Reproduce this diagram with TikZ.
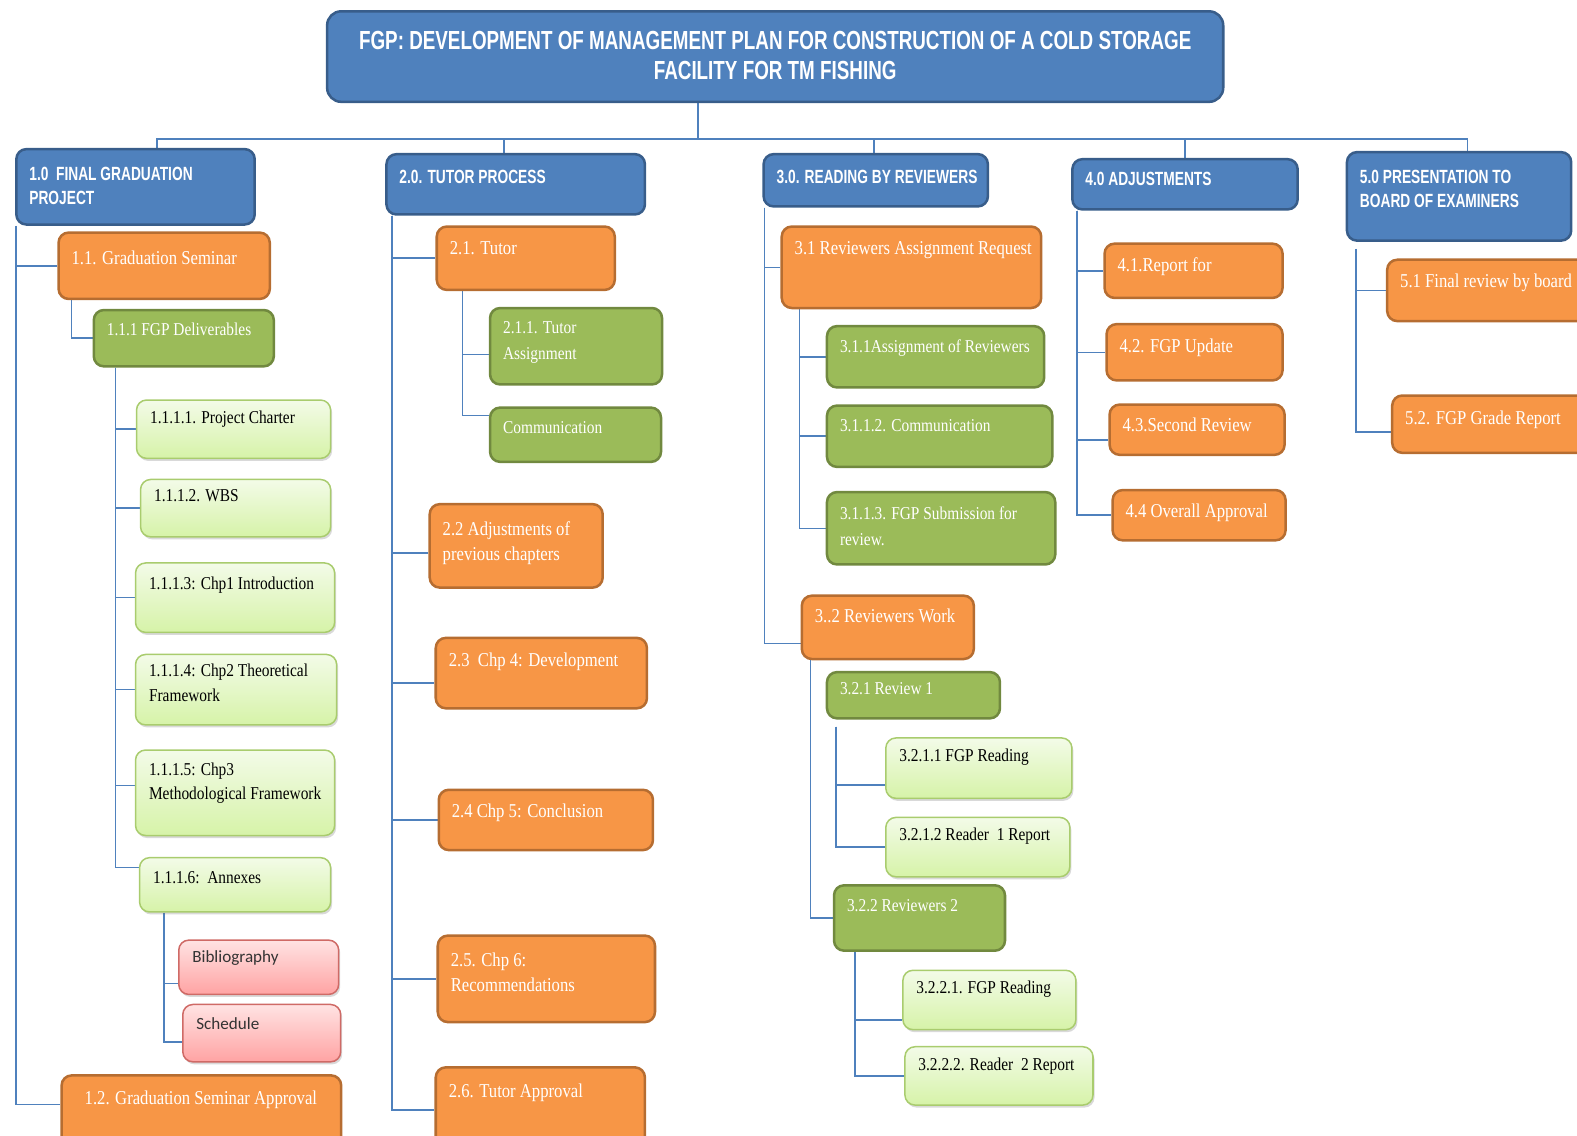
\documentclass[tikz,border=0pt]{standalone}
\usepackage{fontspec}
\setmainfont{Liberation Serif}
\newfontfamily\hdrfont[FakeStretch=0.72]{Liberation Sans}
\newfontfamily\bodyfont[FakeStretch=0.85]{Liberation Serif}
\newfontfamily\calfont{Carlito}
\usetikzlibrary{calc,shadows,backgrounds}

\definecolor{bluefill}{HTML}{4F81BD}
\definecolor{blueline}{HTML}{385D8A}
\definecolor{orfill}{HTML}{F79646}
\definecolor{orline}{HTML}{B66D31}
\definecolor{grfill}{HTML}{9BBB59}
\definecolor{grline}{HTML}{71893F}
\definecolor{ltop}{HTML}{F3FBE8}
\definecolor{lbot}{HTML}{D6F3A8}
\definecolor{lline}{HTML}{A9CC6E}
\definecolor{ptop}{HTML}{FFE3E3}
\definecolor{pbot}{HTML}{FFA3A3}
\definecolor{pline}{HTML}{CF6A66}
\definecolor{linkc}{HTML}{4F81BD}

% multi-line label, aligned on its first baseline
\newcommand\ml[1]{\begin{tabular}[t]{@{}l@{}}#1\end{tabular}}

% box + its label: style, name, x1, y1, x2, y2, baseline offset, text
\newcommand\bx[8]{%
  \node[#1, minimum width={#5-#3}, minimum height={#6-#4}] (#2) at (#3,#4) {};
  \node[txt#1] (#2t) at ($(#2.north west)+(14,#7)$) {#8};}

\begin{document}
\begin{tikzpicture}[x=1pt,y=-1pt,
  box/.style={rounded corners=10pt, inner sep=0pt, anchor=north west, line width=2.5pt},
  blue/.style={box, fill=bluefill, draw=blueline},
  orange/.style={box, fill=orfill, draw=orline},
  green/.style={box, fill=grfill, draw=grline},
  light/.style={box, line width=1.5pt, draw=lline, top color=ltop, bottom color=lbot,
    drop shadow={shadow xshift=1.5pt, shadow yshift=-2.5pt, opacity=0.25, fill=black!60}},
  pink/.style={box, line width=1.5pt, draw=pline, top color=ptop, bottom color=pbot,
    drop shadow={shadow xshift=1.5pt, shadow yshift=-2.5pt, opacity=0.25, fill=black!60}},
  txtbase/.style={anchor=base west, inner sep=0pt},
  txtblue/.style={txtbase, text=white, font=\hdrfont\bfseries\fontsize{19}{24}\selectfont},
  txtorange/.style={txtbase, text=white, font=\bodyfont\fontsize{19.5}{25}\selectfont},
  txtgreen/.style={txtbase, text=white, font=\bodyfont\fontsize{18}{25}\selectfont},
  txtlight/.style={txtbase, text=black, font=\bodyfont\fontsize{18}{24}\selectfont},
  txtpink/.style={txtbase, text=black!80, font=\calfont\fontsize{17}{22}\selectfont},
  txttitle/.style={anchor=base, inner sep=0pt, text=white, font=\hdrfont\bfseries\fontsize{26}{30}\selectfont},
  link/.style={draw=linkc, line width=1.5pt}]

\useasboundingbox (0,0) rectangle (1568,1129);

% root
\node[blue, rounded corners=14pt, minimum width=891, minimum height=90] (title) at (324,10) {};
\node[txttitle] (titlet) at ($(title.north)+(0,39)$)
  {\begin{tabular}[t]{@{}c@{}}FGP: DEVELOPMENT OF MANAGEMENT PLAN FOR CONSTRUCTION OF A COLD STORAGE\\FACILITY FOR TM FISHING\end{tabular}};

% level 1
\bx{blue}{h10}{15}{147}{252}{222}{32}{\ml{1.0\ \ FINAL GRADUATION\\PROJECT}}
\bx{blue}{h20}{383}{152}{640}{212}{30}{2.0. TUTOR PROCESS}
\bx{blue}{h30}{758}{152}{981}{204}{30}{3.0. READING BY REVIEWERS}
\bx{blue}{h40}{1065}{157}{1289}{207}{27}{4.0 ADJUSTMENTS}
\bx{blue}{h50}{1338}{150}{1561}{238}{32}{\ml{5.0 PRESENTATION TO\\BOARD OF EXAMINERS}}

% 1.0 branch
\bx{orange}{n11}{57}{230}{267}{296}{33}{1.1. Graduation Seminar}
\bx{green}{n111}{92}{307}{271}{363}{27}{1.1.1 FGP Deliverables}
\bx{light}{n1111}{135}{397}{328}{455}{24}{1.1.1.1. Project Charter}
\bx{light}{n1112}{139}{476}{328}{533}{23}{1.1.1.2. WBS}
\bx{light}{n1113}{134}{559}{332}{628}{27}{1.1.1.3: Chp1 Introduction}
\bx{light}{n1114}{134}{650}{334}{720}{23}{\ml{1.1.1.4: Chp2 Theoretical\\Framework}}
\bx{light}{n1115}{134}{745}{332}{830}{26}{\ml{1.1.1.5: Chp3\\Methodological Framework}}
\bx{light}{n1116}{138}{852}{328}{906}{26}{1.1.1.6:\ \ Annexes}
\bx{pink}{nbib}{177}{934}{336}{988}{23}{Bibliography}
\bx{pink}{nsch}{181}{998}{338}{1055}{26}{Schedule}
\node[orange, minimum width=278, minimum height=80] (n12) at (60,1068) {};
\node[txtorange] (n12t) at ($(n12.north west)+(24,30)$) {1.2. Graduation Seminar Approval};

% 2.0 branch
\bx{orange}{n21}{433}{224}{610}{287}{29}{2.1. Tutor}
\bx{green}{n211}{486}{305}{657}{381}{27}{\ml{2.1.1. Tutor\\Assignment}}
\bx{green}{n212}{486}{404}{656}{458}{27}{Communication}
\bx{orange}{n22}{426}{500}{598}{583}{32}{\ml{2.2 Adjustments of\\previous chapters}}
\bx{orange}{n23}{432}{633}{642}{703}{30}{2.3\ \ Chp 4: Development}
\bx{orange}{n24}{435}{784}{648}{844}{29}{2.4 Chp 5: Conclusion}
\bx{orange}{n25}{434}{929}{650}{1015}{32}{\ml{2.5. Chp 6:\\Recommendations}}
\bx{orange}{n26}{432}{1060}{640}{1145}{31}{2.6. Tutor Approval}

% 3.0 branch
\bx{orange}{n31}{776}{224}{1034}{305}{29}{3.1 Reviewers Assignment Request}
\bx{green}{n311}{821}{323}{1037}{384}{27}{3.1.1Assignment of Reviewers}
\bx{green}{n312}{821}{402}{1045}{463}{27}{3.1.1.2. Communication}
\bx{green}{n313}{821}{488}{1048}{560}{29}{\ml{3.1.1.3. FGP Submission for\\review.}}
\bx{orange}{n32}{796}{591}{967}{654}{28}{3..2 Reviewers Work}
\bx{green}{n321}{821}{667}{993}{713}{24}{3.2.1 Review 1}
\bx{light}{n3211}{880}{733}{1065}{793}{24}{3.2.1.1 FGP Reading}
\bx{light}{n3212}{880}{812}{1063}{871}{24}{3.2.1.2 Reader\ \ 1 Report}
\bx{green}{n322}{828}{879}{998}{944}{27}{3.2.2 Reviewers 2}
\bx{light}{n3221}{897}{964}{1069}{1023}{24}{3.2.2.1. FGP Reading}
\bx{light}{n3222}{899}{1040}{1086}{1098}{24}{3.2.2.2. Reader\ \ 2 Report}

% 4.0 branch
\bx{orange}{n41}{1097}{241}{1274}{295}{29}{4.1.Report for}
\bx{orange}{n42}{1099}{321}{1274}{377}{29}{4.2. FGP Update}
\bx{orange}{n43}{1102}{401}{1276}{451}{28}{4.3.Second Review}
\bx{orange}{n44}{1105}{486}{1277}{536}{29}{4.4 Overall Approval}

% 5.0 branch
\bx{orange}{n51}{1378}{257}{1590}{318}{29}{5.1 Final review by board}
\bx{orange}{n52}{1383}{392}{1590}{449}{30}{5.2. FGP Grade Report}

% connectors
\begin{pgfonlayer}{background}
\coordinate (bus) at (694,138);
\draw[link] (title.south -| bus) -- (bus);
\draw[link] (bus) -| ([xshift=21.5pt]h10.north);
\draw[link] (bus) -| ([xshift=-11.5pt]h20.north);
\draw[link] (bus) -| ([xshift=-1.5pt]h30.north);
\draw[link] (bus) -| (h40.north);
\draw[link] (bus) -| ([xshift=8.5pt]h50.north);

\draw[link] ([xshift=1pt]h10.south west) |- (n11.west);
\draw[link] ([xshift=1pt]h10.south west) |- ([yshift=11pt]n12.west);
\draw[link] ([xshift=14pt]n11.south west) |- (n111.west);
\foreach \c/\d in {n1111/0,n1112/0,n1113/0,n1114/0,n1115/7,n1116/17}
  \draw[link] ([xshift=23pt]n111.south west) |- ([yshift=\d pt]\c.west);
\draw[link] ([xshift=25pt]n1116.south west) |- ([yshift=-16pt]nbib.west);
\draw[link] ([xshift=25pt]n1116.south west) |- ([yshift=-9pt]nsch.west);

\foreach \c/\d in {n21/0,n22/-7,n23/-10,n24/0,n25/0,n26/0}
  \draw[link] ([xshift=7pt]h20.south west) |- ([yshift=\d pt]\c.west);
\draw[link] ([xshift=27pt]n21.south west) |- ([yshift=-8pt]n211.west);
\draw[link] ([xshift=27pt]n21.south west) |- ([yshift=19pt]n212.west);

\draw[link] ([xshift=2pt]h30.south west) |- (n31.west);
\draw[link] ([xshift=2pt]h30.south west) |- ([yshift=-16pt]n32.west);
\foreach \c in {n311,n312,n313}
  \draw[link] ([xshift=19pt]n31.south west) |- (\c.west);
\draw[link] ([xshift=10pt]n32.south west) |- (n322.west);
\draw[link] ([xshift=10pt,yshift=-7pt]n321.south west) |- ([yshift=-17pt]n3211.west);
\draw[link] ([xshift=10pt,yshift=-7pt]n321.south west) |- (n3212.west);
\draw[link] ([xshift=22pt]n322.south west) |- ([yshift=-20pt]n3221.west);
\draw[link] ([xshift=22pt]n322.south west) |- (n3222.west);

\foreach \c/\d in {n41/0,n42/0,n43/-10,n44/0}
  \draw[link] ([xshift=6pt]h40.south west) |- ([yshift=\d pt]\c.west);
\draw[link] ([xshift=10pt,yshift=-7pt]h50.south west) |- (n51.west);
\draw[link] ([xshift=10pt,yshift=-7pt]h50.south west) |- ([yshift=-8pt]n52.west);
\end{pgfonlayer}
\end{tikzpicture}
\end{document}
